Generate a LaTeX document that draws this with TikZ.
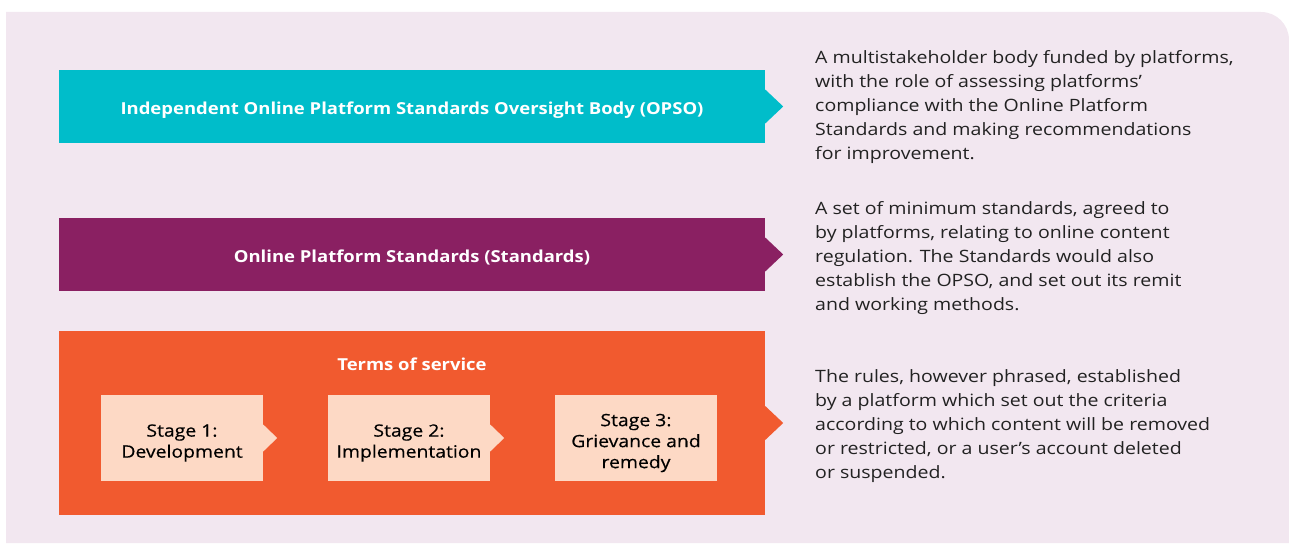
\documentclass[tikz,border=0pt]{standalone}
\usepackage{fontspec}
\setmainfont[FakeStretch=1.15, BoldFeatures={FakeStretch=1.12}]{Open Sans}
\newfontfamily\stagefont[FakeStretch=1.14, FakeBold=0.4]{Open Sans}
\usetikzlibrary{positioning}

\definecolor{panelbg}{HTML}{F2E7F0}
\definecolor{opsoteal}{HTML}{00BDCA}
\definecolor{stdpurple}{HTML}{8A2062}
\definecolor{tosorange}{HTML}{F15A2F}
\definecolor{stagepeach}{HTML}{FDD9C5}
\definecolor{notetext}{HTML}{222222}

\begin{document}
\begin{tikzpicture}[x=1pt, y=-1pt,
    bar/.style={minimum width=706pt, minimum height=73pt, inner sep=0pt, text height=16pt, text depth=0pt, text=white, font=\fontsize{16.5}{20}\selectfont\bfseries},
    stagebox/.style={fill=stagepeach, minimum width=162pt, minimum height=86pt, inner sep=0pt},
    stagelabel/.style={inner sep=0pt, yshift=-5pt, align=center, text=black, font=\fontsize{17}{21}\stagefont},
    note/.style={anchor=west, align=left, inner sep=0pt, text=notetext, font=\fontsize{17}{24}\selectfont}]
\useasboundingbox (0,0) rectangle (1289,543);
\fill[panelbg] (6,543) -- (6,12) -- (1261,12) .. controls (1276.5,12) and (1289,24.5) .. (1289,40) -- (1289,543) -- cycle;

% the three layers
\node[bar, fill=opsoteal] (opso) at (412,106.5) {Independent Online Platform Standards Oversight Body (OPSO)};
\fill[opsoteal] ([yshift=17pt]opso.east) -- ++(18,17) -- ++(-18,17) -- cycle;

\node[bar, fill=stdpurple] (standards) at (412,254.5) {Online Platform Standards (Standards)};
\fill[stdpurple] ([yshift=17pt]standards.east) -- ++(18,17) -- ++(-18,17) -- cycle;

\node[bar, fill=tosorange, minimum height=184pt] (tos) at (412,423) {};
\fill[tosorange] ([yshift=17pt]tos.east) -- ++(18,17) -- ++(-18,17) -- cycle;
\node[text=white, inner sep=0pt, text depth=0pt, font=\fontsize{16.5}{20}\selectfont\bfseries] (tostitle) at (412,364) {Terms of service};

% stages
\node[stagebox, label={[stagelabel]center:Stage 1:\\Development}] (stage1) at (182,438) {};
\fill[stagepeach] ([yshift=13.5pt]stage1.east) -- ++(14,13.5) -- ++(-14,13.5) -- cycle;
\node[stagebox, label={[stagelabel]center:Stage 2:\\Implementation}] (stage2) at (409,438) {};
\fill[stagepeach] ([yshift=13.5pt]stage2.east) -- ++(14,13.5) -- ++(-14,13.5) -- cycle;
\node[stagebox, label={[stagelabel]center:Stage 3:\\Grievance and\\remedy}] (stage3) at (636,438) {};

% descriptions
\node[note] (opsonote) at (815,107) {A multistakeholder body funded by platforms,\\with the role of assessing platforms’\\compliance with the Online Platform\\Standards and making recommendations\\for improvement.};
\node[note] (standardsnote) at (815,258) {A set of minimum standards, agreed to\\by platforms, relating to online content\\regulation. The Standards would also\\establish the OPSO, and set out its remit\\and working methods.};
\node[note] (tosnote) at (815,426) {The rules, however phrased, established\\by a platform which set out the criteria\\according to which content will be removed\\or restricted, or a user’s account deleted\\or suspended.};
\end{tikzpicture}
\end{document}
